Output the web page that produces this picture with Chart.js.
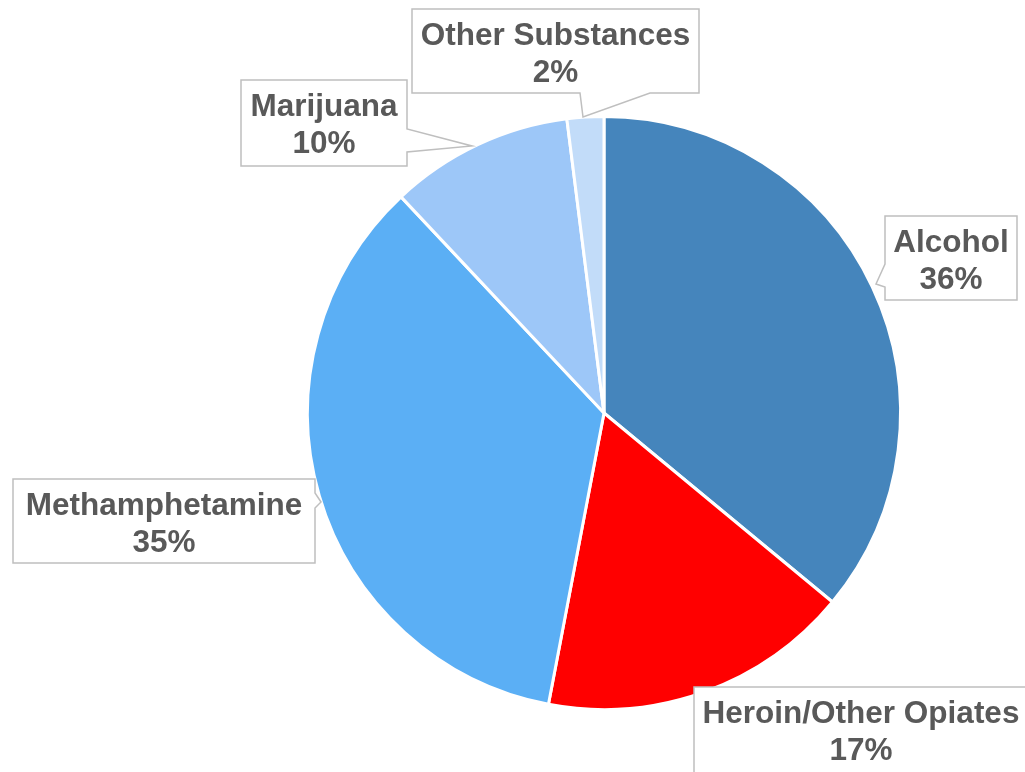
<!DOCTYPE html>
<html>
<head>
<meta charset="utf-8">
<script src="https://cdn.jsdelivr.net/npm/chart.js@4/dist/chart.umd.min.js"></script>
<style>
  html, body { margin: 0; padding: 0; background: #ffffff; }
  #wrap { width: 1025px; height: 772px; position: relative; }
</style>
</head>
<body>
<div id="wrap"><canvas id="pie" width="1025" height="772"></canvas></div>
<script>
// Substance shares (percent), clockwise from 12 o'clock
const categories = ['Alcohol', 'Heroin/Other Opiates', 'Methamphetamine', 'Marijuana', 'Other Substances'];
const shares = [36, 17, 35, 10, 2];
const sliceColors = ['#4585BC', '#FF0000', '#5BAFF5', '#9DC7F8', '#C2DCF9'];

// Callout box geometry: rect [x, y, w, h] plus the pointer outline (absolute px)
const callouts = [
  { box: [885, 216, 132, 84], pointer: [[885, 264], [876, 284], [885, 287]], side: 'left' },
  { box: [694, 687, 334, 86], pointer: null, side: null },
  { box: [13, 479, 302, 84], pointer: [[315, 493], [321, 502], [315, 508]], side: 'right' },
  { box: [241, 80, 166, 86], pointer: [[407, 129], [472, 146], [407, 152]], side: 'right' },
  { box: [412, 9, 287, 84], pointer: [[580, 93], [583, 117], [650, 93]], side: 'bottom' }
];

const calloutPlugin = {
  id: 'calloutLabels',
  afterDraw(chart) {
    const ctx = chart.ctx;
    ctx.save();
    callouts.forEach((c, i) => {
      const [x, y, w, h] = c.box;
      // build outline with the pointer spliced into the proper edge
      ctx.beginPath();
      ctx.moveTo(x, y);
      if (c.side === 'bottom') {
        ctx.lineTo(x + w, y);
        ctx.lineTo(x + w, y + h);
        const p = c.pointer;
        ctx.lineTo(p[2][0], p[2][1]);
        ctx.lineTo(p[1][0], p[1][1]);
        ctx.lineTo(p[0][0], p[0][1]);
        ctx.lineTo(x, y + h);
      } else if (c.side === 'right') {
        ctx.lineTo(x + w, y);
        const p = c.pointer;
        ctx.lineTo(p[0][0], p[0][1]);
        ctx.lineTo(p[1][0], p[1][1]);
        ctx.lineTo(p[2][0], p[2][1]);
        ctx.lineTo(x + w, y + h);
        ctx.lineTo(x, y + h);
      } else if (c.side === 'left') {
        ctx.lineTo(x + w, y);
        ctx.lineTo(x + w, y + h);
        ctx.lineTo(x, y + h);
        const p = c.pointer;
        ctx.lineTo(p[2][0], p[2][1]);
        ctx.lineTo(p[1][0], p[1][1]);
        ctx.lineTo(p[0][0], p[0][1]);
      } else {
        ctx.lineTo(x + w, y);
        ctx.lineTo(x + w, y + h);
        ctx.lineTo(x, y + h);
      }
      ctx.closePath();
      ctx.fillStyle = '#FFFFFF';
      ctx.fill();
      ctx.lineWidth = 1.5;
      ctx.strokeStyle = '#BFBFBF';
      ctx.stroke();

      // two-line label: name and percentage
      ctx.fillStyle = '#595959';
      ctx.font = 'bold 31.5px "Liberation Sans", Arial, sans-serif';
      ctx.textAlign = 'center';
      ctx.textBaseline = 'alphabetic';
      const cx = x + w / 2;
      ctx.fillText(categories[i], cx, y + 36);
      ctx.fillText(shares[i] + '%', cx, y + 73);
    });
    ctx.restore();
  }
};

new Chart(document.getElementById('pie'), {
  type: 'pie',
  data: {
    labels: categories,
    datasets: [{
      data: shares,
      backgroundColor: sliceColors,
      borderColor: '#FFFFFF',
      borderWidth: 3
    }]
  },
  options: {
    responsive: false,
    animation: false,
    radius: 296.5,
    layout: { padding: { left: 183, right: 0, top: 54, bottom: 0 } },
    plugins: {
      legend: { display: false },
      tooltip: { enabled: false }
    }
  },
  plugins: [calloutPlugin]
});
</script>
</body>
</html>
